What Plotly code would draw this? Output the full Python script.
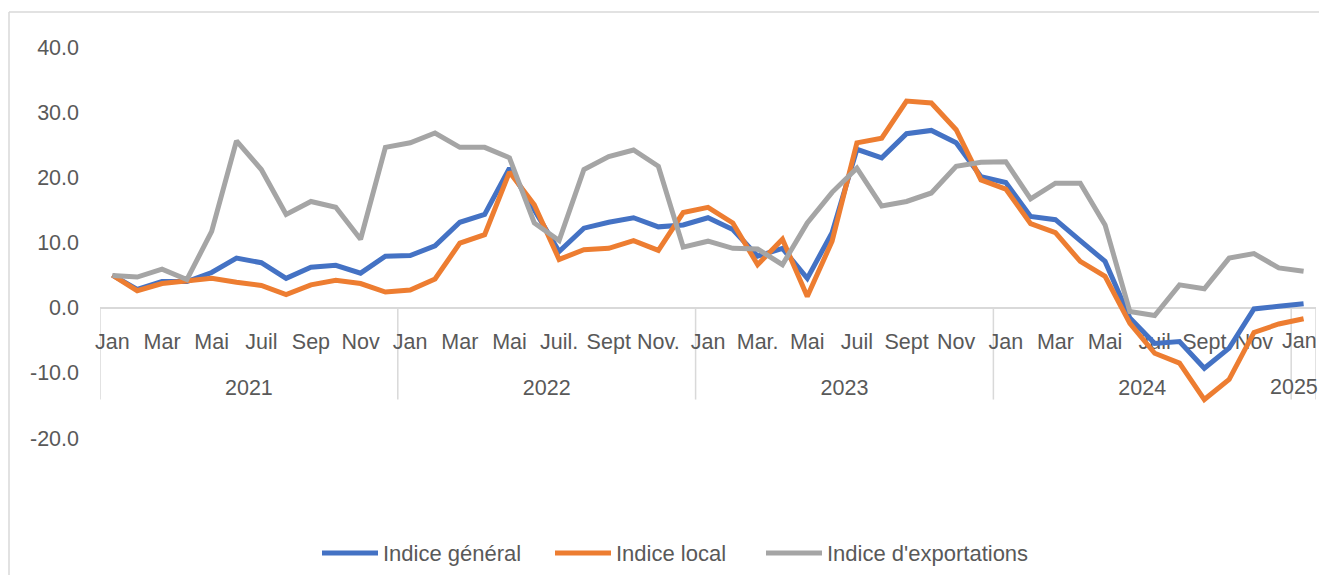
import plotly.graph_objects as go

# ---------------- data ----------------
months = ["Jan", "Fév", "Mar", "Avr", "Mai", "Juin", "Juil", "Août", "Sep", "Oct", "Nov", "Déc",
          "Jan", "Fév", "Mar", "Avr", "Mai", "Juin", "Juil.", "Août", "Sept", "Oct", "Nov.", "Déc",
          "Jan", "Fév", "Mar.", "Avr", "Mai", "Juin", "Juil", "Août", "Sept", "Oct", "Nov", "Déc",
          "Jan", "Fév", "Mar", "Avr", "Mai", "Juin", "Juil", "Août", "Sept", "Oct", "Nov", "Déc",
          "Jan"]
years = ["2021", "2022", "2023", "2024", "2025"]
year_start = [0, 12, 24, 36, 48]
year_len = [12, 12, 12, 12, 1]

indice_general = [5.0, 2.8, 4.0, 4.0, 5.4, 7.6, 6.9, 4.5, 6.2, 6.5, 5.3, 7.9,
                  8.0, 9.5, 13.1, 14.3, 21.4, 15.0, 8.6, 12.2, 13.1, 13.8, 12.4, 12.7,
                  13.8, 12.0, 7.9, 9.1, 4.5, 11.5, 24.3, 23.0, 26.7, 27.2, 25.3, 20.1,
                  19.2, 14.0, 13.5, 10.3, 7.1, -1.6, -5.5, -5.2, -9.3, -6.2, -0.2, 0.2,
                  0.6]
indice_local = [5.0, 2.6, 3.7, 4.1, 4.5, 3.9, 3.4, 2.0, 3.5, 4.2, 3.7, 2.4,
                2.7, 4.4, 9.9, 11.2, 20.8, 15.8, 7.4, 8.9, 9.1, 10.3, 8.8, 14.6,
                15.4, 13.0, 6.6, 10.5, 1.7, 10.2, 25.3, 26.0, 31.7, 31.4, 27.3, 19.6,
                18.2, 12.9, 11.5, 7.1, 4.8, -2.4, -7.0, -8.5, -14.1, -11.0, -3.8, -2.5,
                -1.7]
indice_export = [4.95, 4.7, 5.9, 4.3, 11.7, 25.6, 21.2, 14.3, 16.3, 15.4, 10.5, 24.6,
                 25.3, 26.8, 24.6, 24.6, 23.0, 13.0, 10.3, 21.2, 23.2, 24.2, 21.7, 9.3,
                 10.2, 9.1, 9.0, 6.6, 13.0, 17.7, 21.4, 15.6, 16.3, 17.6, 21.7, 22.3,
                 22.4, 16.7, 19.1, 19.1, 12.7, -0.6, -1.2, 3.5, 2.9, 7.6, 8.3, 6.1,
                 5.6]

series_names = ["Indice général", "Indice local", "Indice d'exportations"]
series_colors = ["#4472C4", "#ED7D31", "#A5A5A5"]
y_ticks = [-20, -10, 0, 10, 20, 30, 40]

# ---------------- layout helpers (page pixels -> paper coords) ----------------
OFF = 8                      # default body margin of the html page
W, H = 1327 - 2 * OFF, 583 - 2 * OFF
PL, PR, PT, PB = 100, 1316, 47, 438      # plot area in page pixels
L, T = PL - OFF, PT - OFF
R, B = W - (PR - OFF), H - (PB - OFF)
PW, PH = PR - PL, PB - PT
def px(xp):
    return (xp - PL) / PW
def py(yp):
    return (PB - yp) / PH

FONT = "Liberation Sans"
FS = 21.5
GREY_TXT = "#595959"
GRID = "#D9D9D9"

idx = list(range(len(months)))
fig = go.Figure()
for name, vals, col in zip(series_names, [indice_general, indice_local, indice_export], series_colors):
    fig.add_trace(go.Scatter(x=idx, y=vals, mode="lines", name=name,
                             line=dict(color=col, width=5), showlegend=False))

year_centers = [s + (n - 1) / 2 for s, n in zip(year_start, year_len)]
fig.add_trace(go.Scatter(x=year_centers, y=[None] * len(year_centers), xaxis="x2",
                         mode="lines", showlegend=False, hoverinfo="skip"))

shapes = []
# category group separators
bounds = [s - 0.5 for s in year_start] + [year_start[-1] + year_len[-1] - 0.5]
for b in bounds:
    shapes.append(dict(type="line", xref="x", yref="y", x0=b, x1=b, y0=0, y1=-14.1,
                       line=dict(color=GRID, width=1.5), layer="below"))
# outer chart border (top and left edges visible)
shapes.append(dict(type="line", xref="paper", yref="paper", x0=px(9), x1=px(1400),
                   y0=py(12), y1=py(12), line=dict(color=GRID, width=1.5), layer="below"))
shapes.append(dict(type="line", xref="paper", yref="paper", x0=px(9), x1=px(9),
                   y0=py(12), y1=py(620), line=dict(color=GRID, width=1.5), layer="below"))

annotations = []
# last month / year labels, kept inside the page edge
annotations.append(dict(xref="paper", yref="paper", x=px(1319), y=py(341), text=months[-1],
                        showarrow=False, xanchor="right", yanchor="middle",
                        font=dict(family=FONT, size=FS, color=GREY_TXT)))
annotations.append(dict(xref="paper", yref="paper", x=px(1320), y=py(387), text=years[-1],
                        showarrow=False, xanchor="right", yanchor="middle",
                        font=dict(family=FONT, size=FS, color=GREY_TXT)))
# manual legend
leg_x = [322, 555, 766]
for xs, name, col in zip(leg_x, series_names, series_colors):
    shapes.append(dict(type="line", xref="paper", yref="paper", x0=px(xs), x1=px(xs + 56),
                       y0=py(553), y1=py(553), line=dict(color=col, width=5)))
    annotations.append(dict(xref="paper", yref="paper", x=px(xs + 59), y=py(553),
                            text=name, showarrow=False, xanchor="left", yanchor="middle",
                            font=dict(family=FONT, size=22, color=GREY_TXT)))

fig.update_layout(
    width=W, height=H, autosize=False,
    margin=dict(l=L, r=R, t=T, b=B, autoexpand=False),
    plot_bgcolor="white", paper_bgcolor="white",
    font=dict(family=FONT, size=FS, color=GREY_TXT),
    xaxis=dict(range=[-0.5, len(months) - 0.5], anchor="free", position=py(308),
               tickvals=idx[:-1:2], ticktext=months[:-1:2], tickangle=0, ticks="",
               showline=True, linecolor=GRID, linewidth=1.5, showgrid=False,
               zeroline=False, layer="below traces", ticklabelstandoff=14,
               automargin=False,
               tickfont=dict(family=FONT, size=FS, color=GREY_TXT)),
    xaxis2=dict(range=[-0.5, len(months) - 0.5], overlaying="x", anchor="free",
                position=py(372), tickvals=year_centers[:-1], ticktext=years[:-1],
                tickangle=0, ticks="", showline=False, showgrid=False, zeroline=False,
                layer="below traces", automargin=False,
                tickfont=dict(family=FONT, size=FS, color=GREY_TXT)),
    yaxis=dict(range=[-20, 40], tickvals=y_ticks, ticktext=[f"{v:.1f}" for v in y_ticks],
               showgrid=False, zeroline=False, showline=False, ticks="",
               ticklabelstandoff=20, automargin=False,
               tickfont=dict(family=FONT, size=FS, color=GREY_TXT)),
    shapes=shapes, annotations=annotations, showlegend=False,
)

fig.write_html("out.html")
